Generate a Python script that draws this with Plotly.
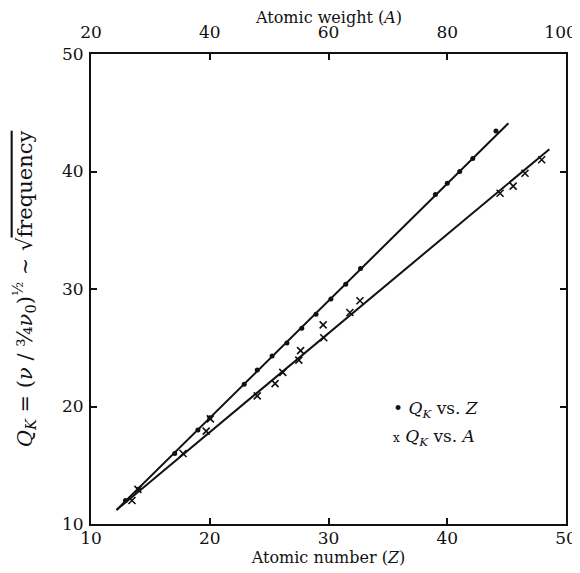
import plotly.graph_objects as go

# Q_K vs atomic number Z (dots)
z_dot = [12.9, 14.0, 17.05, 19.0, 20.0, 22.9, 24.0, 25.25, 26.5, 27.75, 28.95,
         30.2, 31.45, 32.7, 39.0, 40.0, 41.05, 42.15, 44.1]
q_dot = [12.0, 12.95, 16.0, 18.0, 19.05, 21.9, 23.1, 24.3, 25.4, 26.65, 27.85,
         29.15, 30.4, 31.75, 38.05, 39.0, 40.0, 41.1, 43.45]

# Q_K vs atomic weight A (crosses)
a_x = [26.9, 27.9, 35.5, 39.4, 40.1, 48.0, 51.0, 52.3, 55.0, 55.3, 59.2, 59.1,
       63.6, 65.3, 88.9, 91.1, 93.1, 95.9]
q_x = [12.0, 12.95, 16.0, 17.9, 18.95, 20.9, 21.95, 22.9, 23.95, 24.75, 25.85,
       26.95, 28.0, 29.0, 38.15, 38.75, 39.85, 41.0]

# fitted straight lines
z_fit = [12.15, 45.15]
qz_fit = [11.2, 44.1]
a_fit = [24.3, 97.2]
qa_fit = [11.2, 41.9]

z_ticks = [10, 20, 30, 40, 50]
a_ticks = [20, 40, 60, 80, 100]
a_ticklabels = ["20", "40", "60", "80",
                "100<span style='fill:rgba(0,0,0,0);color:rgba(0,0,0,0)'>0</span>"]
q_ticks = [10, 20, 30, 40, 50]

FONT = "DejaVu Serif"
BLACK = "#111111"

fig = go.Figure()
fig.add_trace(go.Scatter(x=z_fit, y=qz_fit, mode="lines", xaxis="x", yaxis="y",
                         line=dict(color=BLACK, width=2), showlegend=False))
fig.add_trace(go.Scatter(x=a_fit, y=qa_fit, mode="lines", xaxis="x2", yaxis="y",
                         line=dict(color=BLACK, width=2), showlegend=False))
fig.add_trace(go.Scatter(x=z_dot, y=q_dot, mode="markers", xaxis="x", yaxis="y",
                         marker=dict(symbol="circle", size=5, color=BLACK),
                         showlegend=False))
fig.add_trace(go.Scatter(x=a_x, y=q_x, mode="markers", xaxis="x2", yaxis="y",
                         marker=dict(symbol="x-thin", size=7, color=BLACK,
                                     line=dict(color=BLACK, width=1.6)),
                         showlegend=False))

axis_common = dict(showgrid=False, zeroline=False, showline=True, linecolor=BLACK,
                   linewidth=2, ticks="inside", ticklen=6, tickwidth=1.5,
                   automargin=False,
                   tickcolor=BLACK, tickfont=dict(family=FONT, size=17, color=BLACK))

fig.update_layout(
    width=580, height=573,
    margin=dict(l=83, r=22, t=46, b=57),
    paper_bgcolor="white", plot_bgcolor="white",
    font=dict(family=FONT, color=BLACK),
    xaxis=dict(range=[10, 50], tickvals=z_ticks, ticklabelstandoff=-2, **axis_common,
               title=dict(text="Atomic number (<i>Z</i>)", font=dict(family=FONT, size=16),
                          standoff=1)),
    xaxis2=dict(range=[20, 100], tickvals=a_ticks, ticktext=a_ticklabels,
                overlaying="x", side="top", ticklabelstandoff=7, **axis_common),
    yaxis=dict(range=[10, 50], tickvals=q_ticks, mirror="ticks", ticklabelstandoff=2,
               **axis_common,
               title=dict(text="<i>Q<sub>K</sub></i> = (<i>ν</i> / ¾<i>ν</i><sub>0</sub>)<sup>½</sup> ~ √<span style='text-decoration:overline'>frequency</span>",
                          font=dict(family=FONT, size=21), standoff=24)),
    annotations=[
        dict(xref="paper", yref="paper", x=0.5, y=1, yshift=37, xanchor="center",
             yanchor="middle", showarrow=False, text="Atomic weight (<i>A</i>)",
             font=dict(family=FONT, size=16, color=BLACK)),
        dict(xref="paper", yref="paper", x=0.632, y=0.243, xanchor="left", yanchor="middle",
             showarrow=False, text="• <i>Q<sub>K</sub></i> vs. <i>Z</i>",
             font=dict(family=FONT, size=17, color=BLACK)),
        dict(xref="paper", yref="paper", x=0.632, y=0.185, xanchor="left", yanchor="middle",
             showarrow=False, text="<span style='font-size:12px'>x</span> <i>Q<sub>K</sub></i> vs. <i>A</i>",
             font=dict(family=FONT, size=17, color=BLACK)),
    ],
)

fig.write_html("out.html")
